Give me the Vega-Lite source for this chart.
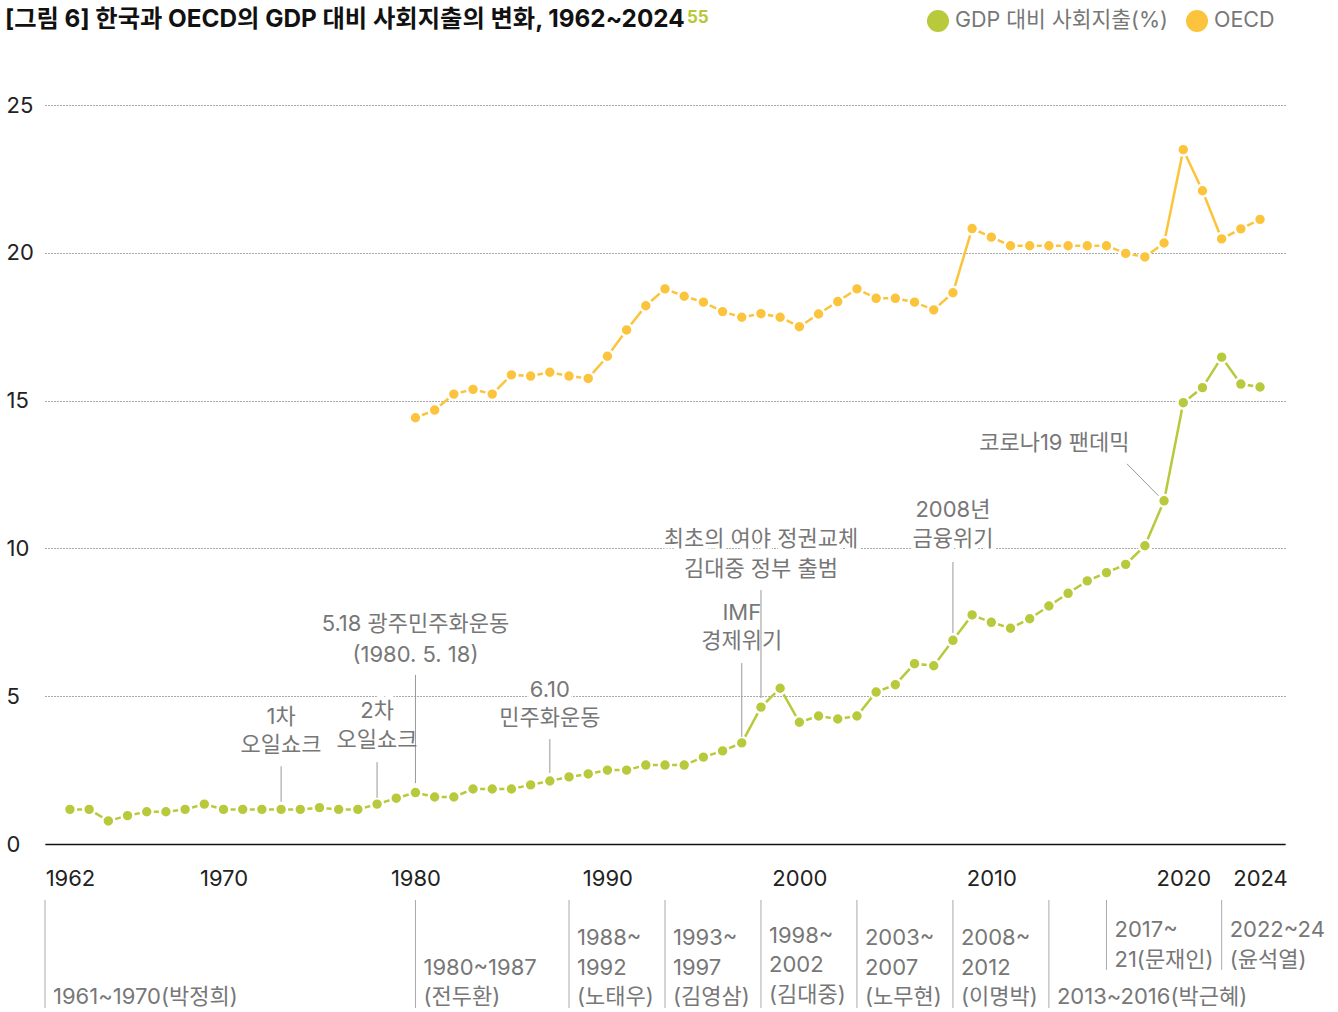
{
  "$schema": "https://vega.github.io/schema/vega-lite/v6.json",
  "width": 1240,
  "height": 739,
  "autosize": {"type": "none"},
  "padding": {"left": 45, "top": 105, "right": 53, "bottom": 168},
  "background": "white",
  "config": {
    "font": "Inter, Noto Sans CJK KR",
    "view": {"stroke": null}
  },
  "title": {
    "text": "[그림 6] 한국과 OECD의 GDP 대비 사회지출의 변화, 1962~2024",
    "anchor": "start",
    "frame": "group",
    "dx": -40,
    "offset": -34,
    "baseline": "middle",
    "fontSize": 24.3,
    "fontWeight": "bold",
    "color": "#111111"
  },
  "datasets": {
    "series": [
      {"year": 1962, "value": 1.17, "series": "GDP 대비 사회지출(%)"},
      {"year": 1963, "value": 1.17, "series": "GDP 대비 사회지출(%)"},
      {"year": 1964, "value": 0.78, "series": "GDP 대비 사회지출(%)"},
      {"year": 1965, "value": 0.96, "series": "GDP 대비 사회지출(%)"},
      {"year": 1966, "value": 1.09, "series": "GDP 대비 사회지출(%)"},
      {"year": 1967, "value": 1.09, "series": "GDP 대비 사회지출(%)"},
      {"year": 1968, "value": 1.17, "series": "GDP 대비 사회지출(%)"},
      {"year": 1969, "value": 1.35, "series": "GDP 대비 사회지출(%)"},
      {"year": 1970, "value": 1.17, "series": "GDP 대비 사회지출(%)"},
      {"year": 1971, "value": 1.17, "series": "GDP 대비 사회지출(%)"},
      {"year": 1972, "value": 1.17, "series": "GDP 대비 사회지출(%)"},
      {"year": 1973, "value": 1.17, "series": "GDP 대비 사회지출(%)"},
      {"year": 1974, "value": 1.17, "series": "GDP 대비 사회지출(%)"},
      {"year": 1975, "value": 1.23, "series": "GDP 대비 사회지출(%)"},
      {"year": 1976, "value": 1.17, "series": "GDP 대비 사회지출(%)"},
      {"year": 1977, "value": 1.17, "series": "GDP 대비 사회지출(%)"},
      {"year": 1978, "value": 1.35, "series": "GDP 대비 사회지출(%)"},
      {"year": 1979, "value": 1.55, "series": "GDP 대비 사회지출(%)"},
      {"year": 1980, "value": 1.74, "series": "GDP 대비 사회지출(%)"},
      {"year": 1981, "value": 1.59, "series": "GDP 대비 사회지출(%)"},
      {"year": 1982, "value": 1.59, "series": "GDP 대비 사회지출(%)"},
      {"year": 1983, "value": 1.86, "series": "GDP 대비 사회지출(%)"},
      {"year": 1984, "value": 1.86, "series": "GDP 대비 사회지출(%)"},
      {"year": 1985, "value": 1.86, "series": "GDP 대비 사회지출(%)"},
      {"year": 1986, "value": 2.0, "series": "GDP 대비 사회지출(%)"},
      {"year": 1987, "value": 2.13, "series": "GDP 대비 사회지출(%)"},
      {"year": 1988, "value": 2.27, "series": "GDP 대비 사회지출(%)"},
      {"year": 1989, "value": 2.37, "series": "GDP 대비 사회지출(%)"},
      {"year": 1990, "value": 2.5, "series": "GDP 대비 사회지출(%)"},
      {"year": 1991, "value": 2.5, "series": "GDP 대비 사회지출(%)"},
      {"year": 1992, "value": 2.67, "series": "GDP 대비 사회지출(%)"},
      {"year": 1993, "value": 2.67, "series": "GDP 대비 사회지출(%)"},
      {"year": 1994, "value": 2.67, "series": "GDP 대비 사회지출(%)"},
      {"year": 1995, "value": 2.94, "series": "GDP 대비 사회지출(%)"},
      {"year": 1996, "value": 3.15, "series": "GDP 대비 사회지출(%)"},
      {"year": 1997, "value": 3.42, "series": "GDP 대비 사회지출(%)"},
      {"year": 1998, "value": 4.63, "series": "GDP 대비 사회지출(%)"},
      {"year": 1999, "value": 5.27, "series": "GDP 대비 사회지출(%)"},
      {"year": 2000, "value": 4.12, "series": "GDP 대비 사회지출(%)"},
      {"year": 2001, "value": 4.33, "series": "GDP 대비 사회지출(%)"},
      {"year": 2002, "value": 4.23, "series": "GDP 대비 사회지출(%)"},
      {"year": 2003, "value": 4.33, "series": "GDP 대비 사회지출(%)"},
      {"year": 2004, "value": 5.14, "series": "GDP 대비 사회지출(%)"},
      {"year": 2005, "value": 5.39, "series": "GDP 대비 사회지출(%)"},
      {"year": 2006, "value": 6.1, "series": "GDP 대비 사회지출(%)"},
      {"year": 2007, "value": 6.03, "series": "GDP 대비 사회지출(%)"},
      {"year": 2008, "value": 6.89, "series": "GDP 대비 사회지출(%)"},
      {"year": 2009, "value": 7.75, "series": "GDP 대비 사회지출(%)"},
      {"year": 2010, "value": 7.5, "series": "GDP 대비 사회지출(%)"},
      {"year": 2011, "value": 7.3, "series": "GDP 대비 사회지출(%)"},
      {"year": 2012, "value": 7.62, "series": "GDP 대비 사회지출(%)"},
      {"year": 2013, "value": 8.05, "series": "GDP 대비 사회지출(%)"},
      {"year": 2014, "value": 8.48, "series": "GDP 대비 사회지출(%)"},
      {"year": 2015, "value": 8.9, "series": "GDP 대비 사회지출(%)"},
      {"year": 2016, "value": 9.18, "series": "GDP 대비 사회지출(%)"},
      {"year": 2017, "value": 9.46, "series": "GDP 대비 사회지출(%)"},
      {"year": 2018, "value": 10.09, "series": "GDP 대비 사회지출(%)"},
      {"year": 2019, "value": 11.61, "series": "GDP 대비 사회지출(%)"},
      {"year": 2020, "value": 14.93, "series": "GDP 대비 사회지출(%)"},
      {"year": 2021, "value": 15.44, "series": "GDP 대비 사회지출(%)"},
      {"year": 2022, "value": 16.47, "series": "GDP 대비 사회지출(%)"},
      {"year": 2023, "value": 15.56, "series": "GDP 대비 사회지출(%)"},
      {"year": 2024, "value": 15.46, "series": "GDP 대비 사회지출(%)"},
      {"year": 1980, "value": 14.42, "series": "OECD"},
      {"year": 1981, "value": 14.68, "series": "OECD"},
      {"year": 1982, "value": 15.22, "series": "OECD"},
      {"year": 1983, "value": 15.38, "series": "OECD"},
      {"year": 1984, "value": 15.22, "series": "OECD"},
      {"year": 1985, "value": 15.87, "series": "OECD"},
      {"year": 1986, "value": 15.83, "series": "OECD"},
      {"year": 1987, "value": 15.96, "series": "OECD"},
      {"year": 1988, "value": 15.83, "series": "OECD"},
      {"year": 1989, "value": 15.75, "series": "OECD"},
      {"year": 1990, "value": 16.5, "series": "OECD"},
      {"year": 1991, "value": 17.39, "series": "OECD"},
      {"year": 1992, "value": 18.21, "series": "OECD"},
      {"year": 1993, "value": 18.78, "series": "OECD"},
      {"year": 1994, "value": 18.53, "series": "OECD"},
      {"year": 1995, "value": 18.33, "series": "OECD"},
      {"year": 1996, "value": 18.01, "series": "OECD"},
      {"year": 1997, "value": 17.82, "series": "OECD"},
      {"year": 1998, "value": 17.94, "series": "OECD"},
      {"year": 1999, "value": 17.82, "series": "OECD"},
      {"year": 2000, "value": 17.5, "series": "OECD"},
      {"year": 2001, "value": 17.93, "series": "OECD"},
      {"year": 2002, "value": 18.35, "series": "OECD"},
      {"year": 2003, "value": 18.78, "series": "OECD"},
      {"year": 2004, "value": 18.46, "series": "OECD"},
      {"year": 2005, "value": 18.46, "series": "OECD"},
      {"year": 2006, "value": 18.33, "series": "OECD"},
      {"year": 2007, "value": 18.07, "series": "OECD"},
      {"year": 2008, "value": 18.65, "series": "OECD"},
      {"year": 2009, "value": 20.82, "series": "OECD"},
      {"year": 2010, "value": 20.53, "series": "OECD"},
      {"year": 2011, "value": 20.24, "series": "OECD"},
      {"year": 2012, "value": 20.24, "series": "OECD"},
      {"year": 2013, "value": 20.24, "series": "OECD"},
      {"year": 2014, "value": 20.24, "series": "OECD"},
      {"year": 2015, "value": 20.24, "series": "OECD"},
      {"year": 2016, "value": 20.24, "series": "OECD"},
      {"year": 2017, "value": 19.98, "series": "OECD"},
      {"year": 2018, "value": 19.86, "series": "OECD"},
      {"year": 2019, "value": 20.33, "series": "OECD"},
      {"year": 2020, "value": 23.49, "series": "OECD"},
      {"year": 2021, "value": 22.1, "series": "OECD"},
      {"year": 2022, "value": 20.47, "series": "OECD"},
      {"year": 2023, "value": 20.81, "series": "OECD"},
      {"year": 2024, "value": 21.13, "series": "OECD"}
    ],
    "events": [
      {"year": 1973, "ly": 4.3, "label": "1차"},
      {"year": 1973, "ly": 3.35, "label": "오일쇼크"},
      {"year": 1978, "ly": 4.5, "label": "2차"},
      {"year": 1978, "ly": 3.52, "label": "오일쇼크"},
      {"year": 1980, "ly": 7.44, "label": "5.18 광주민주화운동"},
      {"year": 1980, "ly": 6.39, "label": "(1980. 5. 18)"},
      {"year": 1987, "ly": 5.21, "label": "6.10"},
      {"year": 1987, "ly": 4.26, "label": "민주화운동"},
      {"year": 1997, "ly": 7.81, "label": "IMF"},
      {"year": 1997, "ly": 6.87, "label": "경제위기"},
      {"year": 1998, "ly": 10.32, "label": "최초의 여야 정권교체"},
      {"year": 1998, "ly": 9.3, "label": "김대중 정부 출범"},
      {"year": 2008, "ly": 11.3, "label": "2008년"},
      {"year": 2008, "ly": 10.32, "label": "금융위기"},
      {"year": 2013.28, "ly": 13.57, "label": "코로나19 팬데믹"}
    ],
    "leaders": [
      {"year": 1973, "year2": 1973, "from": 2.63, "to": 1.43},
      {"year": 1978, "year2": 1978, "from": 2.77, "to": 1.56},
      {"year": 1980, "year2": 1980, "from": 5.72, "to": 2.06},
      {"year": 1987, "year2": 1987, "from": 3.55, "to": 2.4},
      {"year": 1997, "year2": 1997, "from": 6.12, "to": 3.62},
      {"year": 1998, "year2": 1998, "from": 8.59, "to": 4.94},
      {"year": 2008, "year2": 2008, "from": 9.54, "to": 7.14},
      {"year": 2017.07, "year2": 2018.71, "from": 12.86, "to": 11.78}
    ],
    "dividers": [
      {"year": 1960.7, "top": 3.29, "bottom": -0.37},
      {"year": 1980, "top": 3.29, "bottom": -0.37},
      {"year": 1988, "top": 3.29, "bottom": -0.37},
      {"year": 1993, "top": 3.29, "bottom": -0.37},
      {"year": 1998, "top": 3.29, "bottom": -0.37},
      {"year": 2003, "top": 3.29, "bottom": -0.37},
      {"year": 2008, "top": 3.29, "bottom": -0.37},
      {"year": 2013, "top": 3.29, "bottom": -0.37},
      {"year": 2016, "top": 3.29, "bottom": 0.92},
      {"year": 2022, "top": 3.29, "bottom": 0.92}
    ],
    "terms": [
      {"year": 1960.7, "line": 0, "label": "1961~1970(박정희)"},
      {"year": 1980, "line": 1, "label": "1980~1987"},
      {"year": 1980, "line": 0, "label": "(전두환)"},
      {"year": 1988, "line": 2, "label": "1988~"},
      {"year": 1988, "line": 1, "label": "1992"},
      {"year": 1988, "line": 0, "label": "(노태우)"},
      {"year": 1993, "line": 2, "label": "1993~"},
      {"year": 1993, "line": 1, "label": "1997"},
      {"year": 1993, "line": 0, "label": "(김영삼)"},
      {"year": 1998, "line": 2.07, "label": "1998~"},
      {"year": 1998, "line": 1.07, "label": "2002"},
      {"year": 1998, "line": 0.07, "label": "(김대중)"},
      {"year": 2003, "line": 2, "label": "2003~"},
      {"year": 2003, "line": 1, "label": "2007"},
      {"year": 2003, "line": 0, "label": "(노무현)"},
      {"year": 2008, "line": 2, "label": "2008~"},
      {"year": 2008, "line": 1, "label": "2012"},
      {"year": 2008, "line": 0, "label": "(이명박)"},
      {"year": 2013, "line": 0, "label": "2013~2016(박근혜)"},
      {"year": 2016, "line": 2.27, "label": "2017~"},
      {"year": 2016, "line": 1.27, "label": "21(문재인)"},
      {"year": 2022, "line": 2.27, "label": "2022~24"},
      {"year": 2022, "line": 1.27, "label": "(윤석열)"}
    ]
  },
  "layer": [
    {
      "layer": [
        {
          "data": {"name": "series"},
          "mark": {"type": "line", "strokeWidth": 2.5, "interpolate": "linear"},
          "encoding": {
            "x": {
              "field": "year", "type": "quantitative",
              "scale": {"domain": [1960.7, 2025.3], "nice": false, "zero": false},
              "axis": {
                "values": [1962, 1970, 1980, 1990, 2000, 2010, 2020, 2024],
                "format": "d", "title": null, "grid": false, "ticks": false, "tickSize": 0,
                "domain": true, "domainColor": "#111111", "domainWidth": 1.5,
                "labelPadding": 34, "labelBaseline": "middle", "labelFontSize": 22,
                "labelColor": "#222222", "labelFlush": false, "labelOverlap": false
              }
            },
            "y": {
              "field": "value", "type": "quantitative",
              "scale": {"domain": [0, 25], "nice": false, "zero": true},
              "axis": {
                "values": [0, 5, 10, 15, 20, 25], "title": null, "grid": true,
                "gridDash": [1, 2], "gridColor": "#555555", "gridWidth": 1,
                "domain": false, "ticks": false, "tickSize": 0,
                "labelAlign": "left", "labelBaseline": "middle", "labelPadding": 39,
                "labelFontSize": 22, "labelColor": "#222222"
              }
            },
            "color": {
              "field": "series", "type": "nominal",
              "scale": {"domain": ["GDP 대비 사회지출(%)", "OECD"], "range": ["#b8c93c", "#fcc43c"]}
            }
          }
        },
        {
          "data": {"name": "series"},
          "mark": {"type": "point", "filled": true, "size": 142, "stroke": "white", "strokeWidth": 2.5, "opacity": 1},
          "encoding": {
            "x": {"field": "year", "type": "quantitative", "scale": {"domain": [1960.7, 2025.3], "nice": false, "zero": false}},
            "y": {"field": "value", "type": "quantitative", "scale": {"domain": [0, 25], "nice": false}},
            "color": {
              "field": "series", "type": "nominal",
              "scale": {"domain": ["GDP 대비 사회지출(%)", "OECD"], "range": ["#b8c93c", "#fcc43c"]},
              "legend": {
                "orient": "none", "legendX": 642, "legendY": -95, "direction": "horizontal",
                "title": "55", "titleOrient": "left", "titlePadding": 218,
                "titleColor": "#b5c934", "titleFontSize": 17, "titleFontWeight": "bold",
                "titleBaseline": "top", "titleAnchor": "start",
                "symbolType": "circle", "symbolSize": 484, "symbolStrokeWidth": 0, "symbolOpacity": 1,
                "labelFontSize": 21.5, "labelColor": "#777777", "labelOffset": 6,
                "columnPadding": 18, "padding": 0, "labelLimit": 400
              }
            }
          }
        },
        {
          "data": {"name": "events"},
          "mark": {"type": "text", "align": "center", "baseline": "middle", "fontSize": 22, "fill": "white", "stroke": "white", "strokeWidth": 9, "strokeJoin": "round"},
          "encoding": {
            "x": {"field": "year", "type": "quantitative", "scale": {"domain": [1960.7, 2025.3], "nice": false, "zero": false}},
            "y": {"field": "ly", "type": "quantitative", "scale": {"domain": [0, 25], "nice": false}},
            "text": {"field": "label"}
          }
        },
        {
          "data": {"name": "leaders"},
          "mark": {"type": "rule", "color": "#999999", "strokeWidth": 1},
          "encoding": {
            "x": {"field": "year", "type": "quantitative", "scale": {"domain": [1960.7, 2025.3], "nice": false, "zero": false}},
            "x2": {"field": "year2"},
            "y": {"field": "from", "type": "quantitative", "scale": {"domain": [0, 25], "nice": false}},
            "y2": {"field": "to"}
          }
        },
        {
          "data": {"name": "events"},
          "mark": {"type": "text", "align": "center", "baseline": "middle", "fontSize": 22, "fill": "#777777"},
          "encoding": {
            "x": {"field": "year", "type": "quantitative", "scale": {"domain": [1960.7, 2025.3], "nice": false, "zero": false}},
            "y": {"field": "ly", "type": "quantitative", "scale": {"domain": [0, 25], "nice": false}},
            "text": {"field": "label"}
          }
        }
      ]
    },
    {
      "layer": [
        {
          "data": {"name": "dividers"},
          "mark": {"type": "rule", "color": "#aaaaaa", "strokeWidth": 1},
          "encoding": {
            "x": {"field": "year", "type": "quantitative", "scale": {"domain": [1960.7, 2025.3], "nice": false, "zero": false}},
            "y": {"field": "top", "type": "quantitative", "scale": {"domain": [0, 2], "range": [892, 833], "nice": false, "zero": false}, "axis": null},
            "y2": {"field": "bottom"}
          }
        },
        {
          "data": {"name": "terms"},
          "mark": {"type": "text", "align": "left", "baseline": "middle", "dx": 8, "fontSize": 22, "fill": "#777777"},
          "encoding": {
            "x": {"field": "year", "type": "quantitative", "scale": {"domain": [1960.7, 2025.3], "nice": false, "zero": false}},
            "y": {"field": "line", "type": "quantitative", "scale": {"domain": [0, 2], "range": [892, 833], "nice": false, "zero": false}, "axis": null},
            "text": {"field": "label"}
          }
        }
      ]
    }
  ],
  "resolve": {"scale": {"y": "independent"}}
}
